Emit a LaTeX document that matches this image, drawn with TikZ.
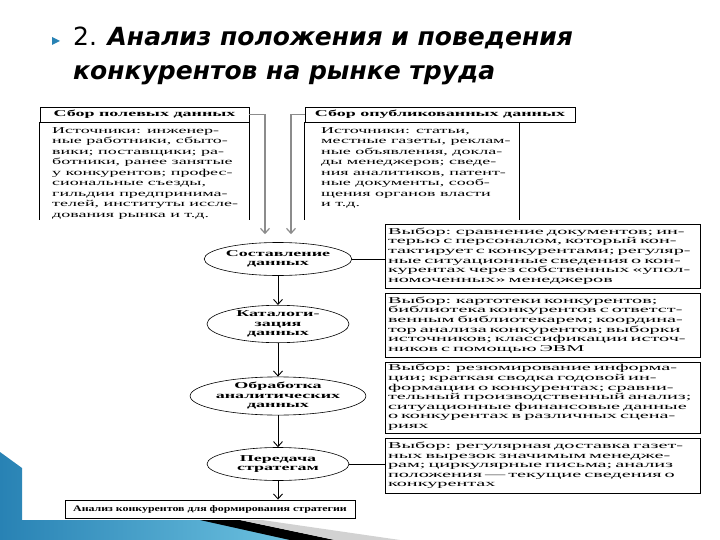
\documentclass[tikz,border=0pt]{standalone}
\usepackage{fontspec}
\setmainfont{Liberation Serif}
\newfontfamily\diagfont[FakeStretch=2.0]{Liberation Serif}
\newfontfamily\choicefont[FakeStretch=2.25]{Liberation Serif}
\newfontfamily\footfont[FakeStretch=1.4]{Liberation Serif}
\newfontfamily\titlefont{DejaVu Sans}
\usepackage{tikz}
\usetikzlibrary{shapes.geometric,arrows.meta,positioning,calc}
\definecolor{slideTeal}{RGB}{40,130,180}
\definecolor{slideSky}{RGB}{110,195,225}
\definecolor{lineGray}{RGB}{140,140,140}

\begin{document}
\begin{tikzpicture}[x=1pt,y=-1pt,
    hdr/.style={draw, line width=0.8pt, inner sep=0pt, minimum height=15pt,
                font=\diagfont\fontsize{9}{10}\selectfont\bfseries},
    srcbody/.style={anchor=north west, inner sep=0pt, align=left,
                font=\diagfont\fontsize{9}{10.5}\selectfont},
    stage/.style={ellipse, draw, line width=0.6pt, inner sep=0pt, align=center,
                minimum width=142pt, font=\diagfont\fontsize{9}{9.5}\selectfont\bfseries},
    choice/.style={draw, line width=0.9pt, minimum width=315pt, text width=309pt,
                align=left, inner xsep=3pt, inner ysep=2pt,
                font=\choicefont\fontsize{9}{9.6}\selectfont},
    feed/.style={lineGray, line width=1.2pt, -{Straight Barb[length=5pt,width=9pt]}},
    flow/.style={line width=0.9pt, -{Straight Barb[length=5pt,width=9pt]}}]
  \useasboundingbox (0,0) rectangle (720,540);
  % slide decoration
  \shade[left color=slideTeal, right color=slideSky] (0,452) -- (22,468) -- (22,520)
    -- (205,520) -- (300,540) -- (0,540) -- cycle;
  \fill[black] (200,520) -- (240,520) -- (335,540) -- (290,540) -- cycle;
  \fill[gray!35] (240,520) -- (262,520) -- (400,540) -- (335,540) -- cycle;
  % title
  \fill[slideTeal] (52,37) -- (60,41) -- (52,45) -- cycle;
  \node[anchor=north west, inner sep=0pt, align=left,
        font=\titlefont\fontsize{25}{34}\selectfont] (title) at (73,27)
    {2. \textbf{\textit{Анализ положения и поведения}}\\
     \textbf{\textit{конкурентов на рынке труда}}};
  % sources
  \node[hdr, minimum width=209pt] (field) at (144.5,114.5) {Сбор полевых данных};
  \node[hdr, minimum width=270pt] (press) at (440,114.5) {Сбор опубликованных данных};
  \node[srcbody] (fieldsrc) at (52,127)
    {Источники: инженер-\\ные работники, сбыто-\\вики; поставщики; ра-\\ботники, ранее занятые\\
     у конкурентов; профес-\\сиональные съезды,\\гильдии предпринима-\\телей, институты иссле-\\
     дования рынка и т.д.};
  \node[srcbody] (presssrc) at (321,127)
    {Источники: статьи,\\местные газеты, реклам-\\ные объявления, докла-\\ды менеджеров; сведе-\\
     ния аналитиков, патент-\\ные документы, сооб-\\щения органов власти\\и т.д.};
  \draw[line width=0.8pt] (field.south west) -- ++(0,98) (field.south east) -- ++(0,98);
  \draw[line width=0.8pt] (press.south west) -- ++(0,98) ([xshift=215pt]press.south west) -- ++(0,98);
  % stages
  \node[stage, minimum height=33pt] (collect) at (278,259) {Составление\\данных};
  \node[stage, minimum height=35pt] (catalog) at (278,324) {Каталоги-\\зация\\данных};
  \node[stage, minimum height=37pt] (process) at (278,396) {Обработка\\аналитических\\данных};
  \node[stage, minimum height=33pt] (pass) at (278,464) {Передача\\стратегам};
  \node[draw, line width=0.9pt, minimum width=290pt, minimum height=18pt, inner sep=0pt,
        font=\footfont\fontsize{8.5}{10}\selectfont\bfseries] (result) at (210,509)
    {Анализ конкурентов для формирования стратегии};
  % choices
  \node[choice, minimum height=64pt] (cmp) at (542.5,256)
    {Выбор: сравнение документов; ин-\\терью с персоналом, который кон-\\тактирует с конкурентами; регуляр-\\
     ные ситуационные сведения о кон-\\курентах через собственных «упол-\\номоченных» менеджеров};
  \node[choice, minimum height=64pt] (files) at (542.5,325)
    {Выбор: картотеки конкурентов;\\библиотека конкурентов с ответст-\\венным библиотекарем; координа-\\
     тор анализа конкурентов; выборки\\источников; классификации источ-\\ников с помощью ЭВМ};
  \node[choice, minimum height=71pt] (sums) at (542.5,397.5)
    {Выбор: резюмирование информа-\\ции; краткая сводка годовой ин-\\формации о конкурентах; сравни-\\
     тельный производственный анализ;\\ситуационные финансовые данные\\о конкурентах в различных сцена-\\риях};
  \node[choice, minimum height=55pt] (mail) at (542.5,465.5)
    {Выбор: регулярная доставка газет-\\ных вырезок значимым менедже-\\рам; циркулярные письма; анализ\\
     положения — текущие сведения о\\конкурентах};
  % connectors
  \draw[feed] (field.east) -| ([xshift=-13pt,yshift=8pt]collect.north);
  \draw[feed] (press.west) -| ([xshift=13pt,yshift=8pt]collect.north);
  \draw[flow] (collect) -- (catalog);
  \draw[flow] (catalog) -- (process);
  \draw[flow] (process) -- (pass);
  \draw[flow] (pass.south) -- (pass.south |- result.north);
  \draw[line width=0.8pt] (collect.east) -- (collect.east -| cmp.west);
  \draw[line width=0.8pt] (pass.east) -- (pass.east -| mail.west);
\end{tikzpicture}
\end{document}
